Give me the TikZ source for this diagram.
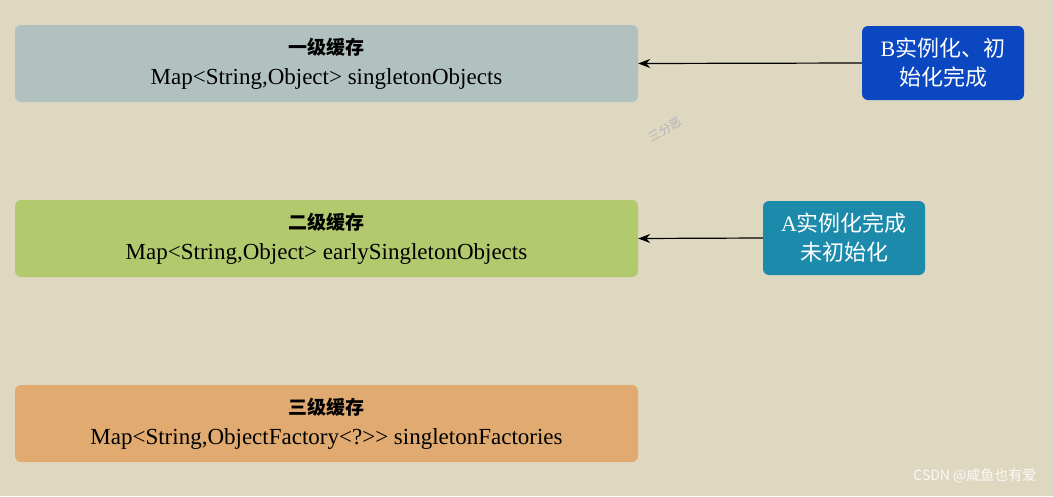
\documentclass[tikz,border=0pt]{standalone}
\usepackage{fontspec}
\usetikzlibrary{arrows.meta}
\setmainfont{Liberation Serif}
\newfontfamily\cjk{Noto Sans CJK SC}
\definecolor{bg}{HTML}{DFD8C1}
\definecolor{c1}{HTML}{B1C1BF}
\definecolor{c2}{HTML}{B3C96E}
\definecolor{c3}{HTML}{E0AA70}
\definecolor{cb}{HTML}{0A47C0}
\definecolor{ca}{HTML}{1C8AAA}
\begin{document}
\begin{tikzpicture}[x=1pt,y=-1pt,
  cache/.style={rounded corners=6pt,minimum width=623pt,minimum height=77pt,align=center,font=\fontsize{23}{30}\selectfont,inner sep=0pt},
  state/.style={rounded corners=6pt,minimum width=162pt,minimum height=74pt,align=center,text=white,font=\fontsize{22}{29}\selectfont,inner sep=0pt},
  arr/.style={-{Stealth[length=12pt,width=9pt]},line width=1.2pt}]
\fill[bg] (0,0) rectangle (1053,496);
\useasboundingbox (0,0) rectangle (1053,496);
\node[cache,fill=c1] (l1) at (326.5,63.5) {{\cjk\bfseries\fontsize{19}{24}\selectfont 一级缓存}\\Map<String,Object> singletonObjects};
\node[cache,fill=c2] (l2) at (326.5,238.5) {{\cjk\bfseries\fontsize{19}{24}\selectfont 二级缓存}\\Map<String,Object> earlySingletonObjects};
\node[cache,fill=c3] (l3) at (326.5,423.5) {{\cjk\bfseries\fontsize{19}{24}\selectfont 三级缓存}\\Map<String,ObjectFactory<?>{}> singletonFactories};
\node[state,fill=cb] (b) at (943,63) {B{\cjk 实例化、初}\\{\cjk 始化完成}};
\node[state,fill=ca] (a) at (844,238) {A{\cjk 实例化完成}\\{\cjk 未初始化}};
\draw[arr] (b.west) -- (l1.east);
\draw[arr] (a.west) -- (l2.east);
\node[rotate=30,text=gray!60,font=\cjk\fontsize{12}{12}\selectfont] (wm) at (665,130) {三分恶};
\node[anchor=east,text=white!95!gray,font=\cjk\fontsize{14}{14}\selectfont] (csdn) at (1040,476) {CSDN @咸鱼也有爱};
\end{tikzpicture}
\end{document}
